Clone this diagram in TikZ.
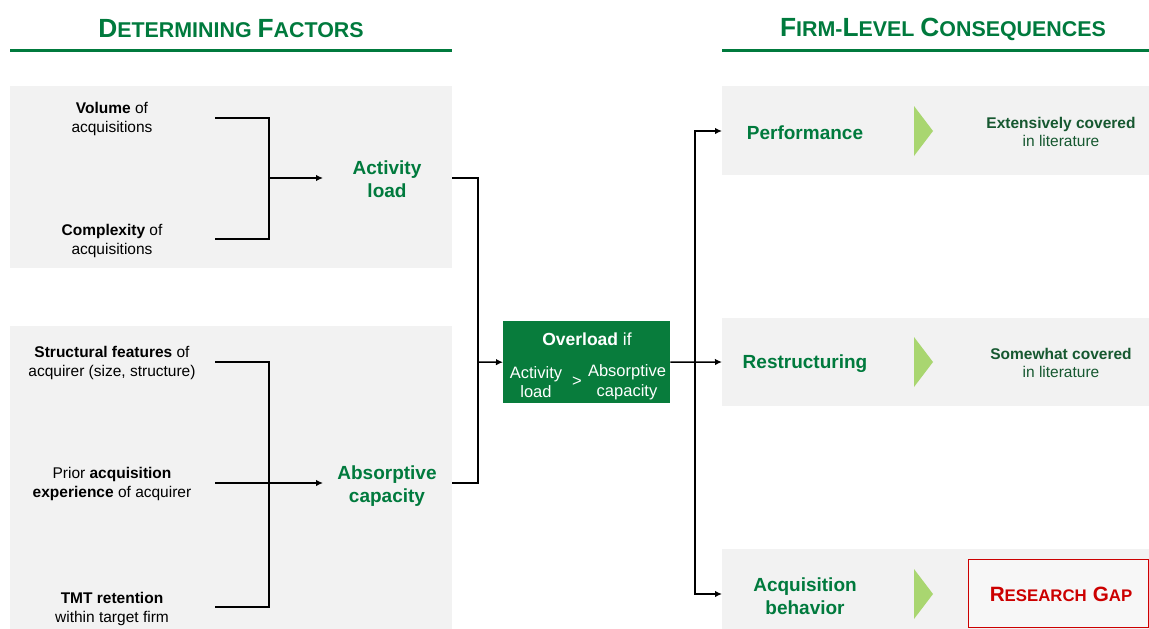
\documentclass[tikz,border=0pt]{standalone}
\usepackage{fontspec}
\setmainfont{Liberation Sans}
\usetikzlibrary{arrows.meta}
\definecolor{hdgreen}{RGB}{0,122,61}
\definecolor{boxgreen}{RGB}{8,124,60}
\definecolor{darkg}{RGB}{22,88,48}
\definecolor{panelgray}{RGB}{242,242,242}
\definecolor{trigreen}{RGB}{169,214,112}
\definecolor{gapred}{RGB}{204,0,0}
\newcommand\mysc[2]{{\fontsize{26.3}{28}\selectfont #1}{\fontsize{21.4}{28}\selectfont #2}}
\newcommand\myscr[2]{{\fontsize{20.7}{24}\selectfont #1}{\fontsize{16.8}{24}\selectfont #2}}
\tikzset{
  panelbox/.style={fill=panelgray, draw=none, inner sep=0pt, outer sep=0pt, anchor=north west},
  factor/.style={align=center, font=\fontsize{15.5}{19}\selectfont, text=black, inner sep=0pt},
  glabel/.style={align=center, font=\fontsize{19}{23}\selectfont\bfseries, text=hdgreen, inner sep=0pt},
  cover/.style={align=center, font=\fontsize{15.5}{18.5}\selectfont, text=darkg, inner sep=0pt},
  boxtext/.style={align=center, font=\fontsize{16.5}{19.5}\selectfont, text=white, inner sep=0pt},
  heading/.style={font=\fontsize{21.4}{28}\selectfont\bfseries, text=hdgreen, inner sep=0pt},
  rule/.style={draw=hdgreen, line width=3pt},
  conn/.style={line width=1.5pt, line join=miter},
  arr/.style={conn, -{Latex[length=7pt,width=6.5pt]}},
  tri/.style={fill=trigreen, draw=none},
}
\begin{document}
\begin{tikzpicture}[x=1pt, y=-1pt]
\useasboundingbox (0,0) rectangle (1149,629);
% headings
\node[heading] (h1) at (231,29) {\mysc{D}{ETERMINING} \mysc{F}{ACTORS}};
\coordinate (h1a) at (10,50); \coordinate (h1b) at (452,50);
\draw[rule] (h1a) -- (h1b);
\node[heading] (h2) at (943,29) {\mysc{F}{IRM}-\mysc{L}{EVEL} \mysc{C}{ONSEQUENCES}};
\coordinate (h2a) at (722,50); \coordinate (h2b) at (1149,50);
\draw[rule] (h2a) -- (h2b);
% panels
\node[panelbox, minimum width=442pt, minimum height=182pt] (pa) at (10,86) {};
\node[panelbox, minimum width=442pt, minimum height=303pt] (pb) at (10,326) {};
\node[panelbox, minimum width=427pt, minimum height=89pt] (pc) at (722,86) {};
\node[panelbox, minimum width=427pt, minimum height=88pt] (pd) at (722,318) {};
\node[panelbox, minimum width=427pt, minimum height=80pt] (pe) at (722,549) {};
% factors top
\node[factor] (f1) at (112,119) {\textbf{Volume} of\\acquisitions};
\node[factor] (f2) at (112,241) {\textbf{Complexity} of\\acquisitions};
\node[glabel] (al) at (387,179) {Activity\\load};
\coordinate (b1) at (215,118); \coordinate (b2) at (215,239);
\coordinate (k1) at (269,118); \coordinate (k2) at (269,239);
\coordinate (km) at (269,178); \coordinate (alin) at (323,178);
\draw[conn] (b1) -- (k1) -- (k2) -- (b2);
\draw[arr] (km) -- (alin);
% factors bottom
\node[factor] (f3) at (112,363) {\textbf{Structural features} of\\acquirer (size, structure)};
\node[factor] (f4) at (112,484) {Prior \textbf{acquisition}\\\textbf{experience} of acquirer};
\node[factor] (f5) at (112,609) {\textbf{TMT retention}\\within target firm};
\node[glabel] (ac) at (387,486) {Absorptive\\capacity};
\coordinate (b3) at (215,362); \coordinate (b4) at (215,483); \coordinate (b5) at (215,607);
\coordinate (k3) at (269,362); \coordinate (k5) at (269,607);
\coordinate (acin) at (323,483);
\draw[conn] (b3) -- (k3) -- (k5) -- (b5);
\draw[arr] (b4) -- (acin);
% overload box
\node[fill=boxgreen, draw=none, inner sep=0pt, anchor=north west, minimum width=167pt, minimum height=82pt] (ov) at (503,321) {};
\node[boxtext, font=\fontsize{17.5}{20}\selectfont] (ovt) at (587,339) {\textbf{Overload} if};
\node[boxtext] (ov1) at (536,382) {Activity\\load};
\node[boxtext] (ovg) at (577,382) {>};
\node[boxtext] (ov2) at (627,382) {Absorptive\\capacity};
% connectors into overload
\coordinate (alo) at (452,178); \coordinate (aco) at (452,483);
\coordinate (j1) at (478,178); \coordinate (j2) at (478,483); \coordinate (jm) at (478,362);
\draw[conn] (alo) -- (j1) -- (j2) -- (aco);
\draw[arr] (jm) -- (ov.west);
% out of overload
\coordinate (s1) at (695,131); \coordinate (s2) at (695,594); \coordinate (sm) at (695,362);
\coordinate (t1) at (722,131); \coordinate (t2) at (722,362); \coordinate (t3) at (722,594);
\draw[arr] (ov.east) -- (t2);
\draw[arr] (s2) -- (s1) -- (t1);
\draw[arr] (s1) -- (s2) -- (t3);
% consequences
\node[glabel] (c1) at (805,132.5) {Performance};
\node[glabel] (c2) at (805,364) {Restructuring};
\node[glabel] (c3) at (805,596) {Acquisition\\behavior};
\fill[tri] (914,106) -- (933,131) -- (914,156) -- cycle;
\fill[tri] (914,337) -- (933,362) -- (914,387) -- cycle;
\fill[tri] (914,569) -- (933,594) -- (914,619) -- cycle;
\node[cover] (e1) at (1061,132) {\textbf{Extensively covered}\\in literature};
\node[cover] (e2) at (1061,363) {\textbf{Somewhat covered}\\in literature};
\node[draw=gapred, line width=1.2pt, fill=white!97!black, inner sep=0pt, anchor=north west, minimum width=180pt, minimum height=68pt] (gap) at (968,559) {};
\node[heading, text=gapred] (gapt) at (1061,594) {\myscr{R}{ESEARCH} \myscr{G}{AP}};
\end{tikzpicture}
\end{document}
